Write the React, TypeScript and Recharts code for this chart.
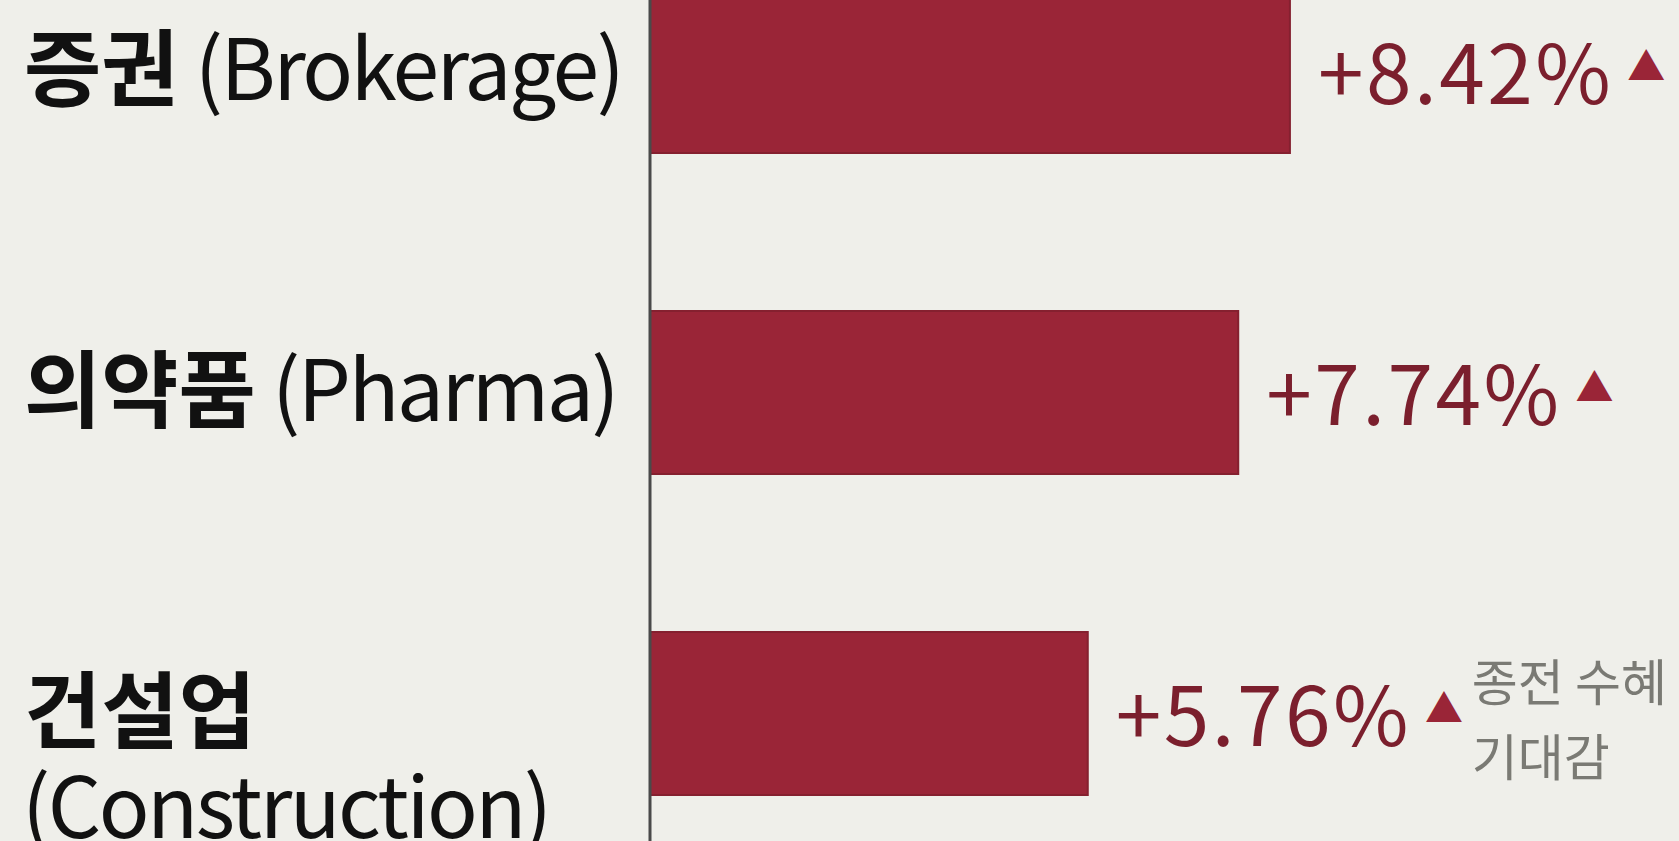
import { BarChart, Bar, XAxis, YAxis, LabelList } from "recharts";

const SECTOR_KO = ["증권", "의약품", "건설업"];
const SECTOR_EN = ["Brokerage", "Pharma", "Construction"];
const CHANGE_PCT = [8.42, 7.74, 5.76];
const NOTES = ["", "", "종전 수혜\n기대감"];

const data = SECTOR_KO.map((ko, i) => ({
  name: ko,
  en: SECTOR_EN[i],
  value: CHANGE_PCT[i],
  note: NOTES[i],
}));

const FONT = "'Noto Sans CJK KR', 'Noto Sans', sans-serif";
const BG = "#efefea";
const BAR = "#9a2537";
const LABEL_RED = "#7b1f2d";

function SectorTick(props: any) {
  const { y, payload, index } = props;
  const en = SECTOR_EN[index] ?? "";
  const wrap = en.length > 10;
  return (
    <g>
      <text x={24} y={y + 28} fontFamily={FONT} fontSize={84} fill="#111">
        <tspan fontWeight={700}>{payload.value}</tspan>
        {!wrap && (
          <tspan fontWeight={400} letterSpacing={-2.6}>{` (${en})`}</tspan>
        )}
      </text>
      {wrap && (
        <text
          x={22}
          y={y + 124}
          fontFamily={FONT}
          fontSize={84}
          letterSpacing={-2.6}
          fill="#111"
        >
          {`(${en})`}
        </text>
      )}
    </g>
  );
}

function ValueLabel(props: any) {
  const { x, y, width, height, value, index } = props;
  const lx = x + width + 28;
  const cy = y + height / 2;
  const note = (NOTES[index] ?? "").split("\n").filter(Boolean);
  return (
    <g>
      <text
        x={lx}
        y={cy + 32}
        fontFamily={FONT}
        fontSize={82}
        letterSpacing={2.5}
        fill={LABEL_RED}
      >
        {`+${Number(value).toFixed(2)}%`}
        <tspan dx={14} dy={-24} fontSize={38} letterSpacing={0} fill={BAR}>
          ▲
        </tspan>
      </text>
      {note.map((line: string, i: number) => (
        <text
          key={i}
          x={lx + 356}
          y={cy - 13 + i * 75}
          fontFamily={FONT}
          fontSize={50}
          fill="#7a7a74"
        >
          {line}
        </text>
      ))}
    </g>
  );
}

export default function App() {
  return (
    <div
      style={{
        position: "fixed",
        left: 0,
        top: 0,
        width: 1679,
        height: 841,
        overflow: "hidden",
        background: BG,
      }}
    >
      <div style={{ marginTop: -89.5 }}>
        <BarChart
          width={1679}
          height={963}
          data={data}
          layout="vertical"
          margin={{ top: 0, right: 117, bottom: 0, left: 0 }}
        >
          <XAxis type="number" domain={[0, 12]} hide />
          <YAxis
            type="category"
            dataKey="name"
            width={650}
            axisLine={{ stroke: "#4a4a4a", strokeWidth: 3 }}
            tickLine={false}
            tick={<SectorTick />}
          />
          <Bar
            dataKey="value"
            fill={BAR}
            stroke="#85202f"
            strokeWidth={2}
            barSize={163}
            isAnimationActive={false}
          >
            <LabelList dataKey="value" content={<ValueLabel />} />
          </Bar>
        </BarChart>
      </div>
    </div>
  );
}
